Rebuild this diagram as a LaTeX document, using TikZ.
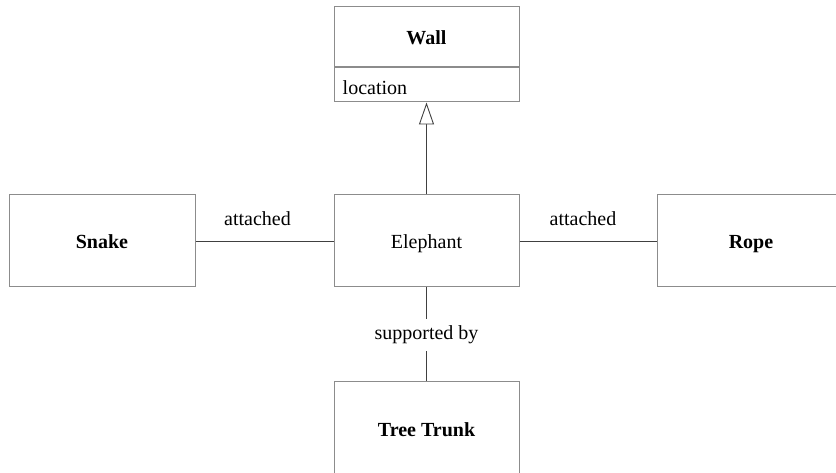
\documentclass[tikz,border=0pt]{standalone}
\usepackage{fontspec}
\setmainfont{Liberation Serif}
\usetikzlibrary{arrows.meta}
\begin{document}
\begin{tikzpicture}[x=1pt,y=-1pt,
  box/.style={draw=black!45, line width=1pt, fill=white, inner sep=0pt, text height=16pt, text depth=0pt, font=\fontsize{20}{24}\selectfont},
  conn/.style={draw=black!75, line width=0.9pt},
  lbl/.style={font=\fontsize{20}{24}\selectfont, inner sep=0pt}]
\useasboundingbox (0,0) rectangle (836,473);
\clip (0,0) rectangle (836,473);
% boxes
\node[box, minimum width=185pt, minimum height=60pt] (wall) at (426.5,37) {\textbf{Wall}};
\node[box, minimum width=185pt, minimum height=34pt, anchor=north] (wallattr) at (wall.south) {};
\node[lbl, anchor=west] (loc) at ([xshift=9pt, yshift=-3pt]wallattr.west) {location};
\node[box, minimum width=185pt, minimum height=92pt] (elephant) at (426.5,241) {Elephant};
\node[box, minimum width=186pt, minimum height=92pt] (snake) at (102,241) {\textbf{Snake}};
\node[box, minimum width=188pt, minimum height=92pt] (rope) at (751,241) {\textbf{Rope}};
\node[box, minimum width=185pt, minimum height=94pt] (trunk) at (426.5,428) {\textbf{Tree Trunk}};
% connectors
\draw[conn, -{Triangle[open, length=22pt, width=15pt, fill=white]}] (elephant.north) -- (wallattr.south);
\draw[conn] (snake.east) -- (elephant.west)
  node[lbl, midway, yshift=22pt, xshift=-7pt] (att1) {attached};
\draw[conn] (elephant.east) -- (rope.west)
  node[lbl, midway, yshift=22pt, xshift=-5pt] (att2) {attached};
\draw[conn] (elephant.south) -- (trunk.north)
  node[lbl, midway, fill=white, inner ysep=7pt, inner xsep=3pt, yshift=-1pt] (sup) {supported by};
\end{tikzpicture}
\end{document}
